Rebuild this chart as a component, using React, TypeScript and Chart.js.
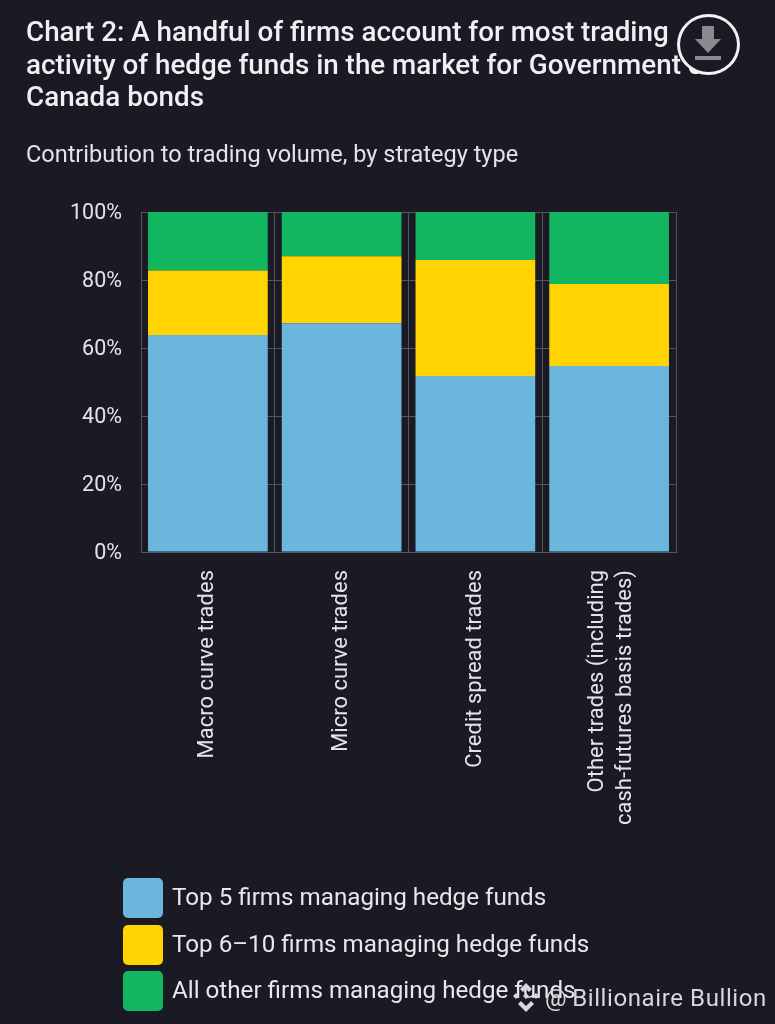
import { useEffect, useRef } from "react";
import { Chart, registerables } from "chart.js";

Chart.register(...registerables);

const categories = [
  "Macro curve trades",
  "Micro curve trades",
  "Credit spread trades",
  ["Other trades (including", "cash-futures basis trades)"],
];
const top5 = [63.8, 67.3, 51.8, 54.7];
const top6to10 = [19.0, 19.7, 34.1, 24.1];
const allOther = [17.2, 13.0, 14.1, 21.2];
const yTicks = [0, 20, 40, 60, 80, 100];

const seriesNames = [
  "Top 5 firms managing hedge funds",
  "Top 6–10 firms managing hedge funds",
  "All other firms managing hedge funds",
];
const seriesColors = ["#6bb6dd", "#ffd400", "#12b560"];

const FONT = "Roboto, sans-serif";
const BG = "#1a1a24";
const GRID = "#55555d";

// two-line labels should sit centred on their bar, chart.js puts the first line there
const centerMultiLine = {
  id: "centerMultiLine",
  afterLayout(chart: any) {
    const items = chart.scales.x.getLabelItems();
    items.forEach((item: any) => {
      if (Array.isArray(item.label)) item.textOffset -= 12;
    });
  },
};

const App = () => {
  const chartRef = useRef<HTMLCanvasElement>(null);
  const chartInstance = useRef<Chart | null>(null);

  useEffect(() => {
    document.body.style.margin = "0";
    document.body.style.background = BG;

    const canvas = chartRef.current;
    if (!canvas) return;
    const ctx = canvas.getContext("2d");
    if (!ctx) return;

    chartInstance.current = new Chart(ctx, {
      type: "bar",
      data: {
        labels: categories as any,
        datasets: [top5, top6to10, allOther].map((data, i) => ({
          label: seriesNames[i],
          data,
          backgroundColor: seriesColors[i],
          barPercentage: 1,
          categoryPercentage: 0.895,
        })),
      },
      plugins: [centerMultiLine],
      options: {
        responsive: false,
        animation: false,
        layout: { padding: { top: 212, right: 99, bottom: 0, left: 0 } },
        plugins: { legend: { display: false }, tooltip: { enabled: false } },
        scales: {
          x: {
            stacked: true,
            border: { color: GRID },
            grid: { color: GRID, drawTicks: false, lineWidth: 1 },
            ticks: {
              color: "#e4e4e8",
              font: { family: FONT, size: 22, lineHeight: 1.27 },
              minRotation: 90,
              maxRotation: 90,
              padding: 18,
              autoSkip: false,
            },
            afterFit: (scale: any) => {
              scale.height = 472;
            },
          },
          y: {
            stacked: true,
            min: 0,
            max: 100,
            afterBuildTicks: (scale: any) => {
              scale.ticks = yTicks.map((value) => ({ value }));
            },
            border: { color: GRID },
            grid: { color: GRID, drawTicks: false },
            ticks: {
              color: "#e4e4e8",
              font: { family: FONT, size: 21.5 },
              padding: 19,
              labelOffset: 1.5,
              callback: (v: any) => `${v}%`,
            },
            afterFit: (scale: any) => {
              scale.width = 141;
            },
          },
        },
      },
    });

    return () => {
      if (chartInstance.current) {
        chartInstance.current.destroy();
      }
    };
  }, []);

  return (
    <div style={{ position: "relative", width: 775, height: 1024, overflow: "hidden", background: BG, fontFamily: FONT }}>
      <canvas ref={chartRef} width={775} height={1024} style={{ position: "absolute", left: 0, top: 0 }} />
      <div style={{ position: "absolute", left: 26, top: 16, width: 740, color: "#f0f0f2", fontSize: 27.8, fontWeight: 500, lineHeight: "32.5px" }}>
        Chart 2: A handful of firms account for most trading
        <br />
        activity of hedge funds in the market for Government of
        <br />
        Canada bonds
      </div>
      <div style={{ position: "absolute", left: 26, top: 140, color: "#e4e4e8", fontSize: 23.5, lineHeight: "28px" }}>
        Contribution to trading volume, by strategy type
      </div>
      <div style={{ position: "absolute", left: 677, top: 14, width: 57, height: 55, borderRadius: "50%", border: "3px solid #f2f2f2", background: BG }}>
        <svg width="57" height="55" viewBox="0 0 57 55">
          <path d="M22 9h12v13h7L28 36 15 22h7z" fill="#8a8a8e" />
          <rect x="15" y="39" width="26" height="4" fill="#8a8a8e" />
        </svg>
      </div>
      {seriesNames.map((name, i) => (
        <div key={name} style={{ position: "absolute", left: 123, top: 878 + i * 46.7, height: 40, display: "flex", alignItems: "center" }}>
          <span style={{ width: 40, height: 40, borderRadius: 5, background: seriesColors[i], display: "inline-block" }} />
          <span style={{ marginLeft: 9, marginTop: -2, color: "#e8e8ea", fontSize: 24.2 }}>{name}</span>
        </div>
      ))}
      <div style={{ position: "absolute", left: 545, top: 984, color: "#d8d8dc", fontSize: 24, letterSpacing: 0.6, lineHeight: "28px" }}>
        <span style={{ marginRight: 5 }}>@</span>Billionaire Bullion
      </div>
      <svg width="36" height="36" viewBox="0 0 36 36" style={{ position: "absolute", left: 508, top: 980 }}>
        <path d="M18 3l6 6-3 3-3-3-3 3-3-3zM8 13l3 3-3 3-3-3zM28 13l3 3-3 3-3-3zM18 13l3 3-3 3-3-3zM18 32l-8-8 3-3 5 5 5-5 3 3z" fill="#d8d8dc" />
      </svg>
    </div>
  );
};

export default App;
